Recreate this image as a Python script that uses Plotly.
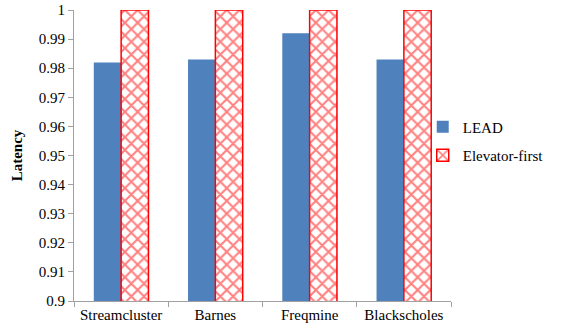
import plotly.graph_objects as go

categories = ["Streamcluster", "Barnes", "Freqmine", "Blackscholes"]
lead = [0.982, 0.983, 0.992, 0.983]
elevator_first = [1.0, 1.0, 1.0, 1.0]
y_ticks = [0.9, 0.91, 0.92, 0.93, 0.94, 0.95, 0.96, 0.97, 0.98, 0.99, 1.0]
y_tick_text = ["0.9", "0.91", "0.92", "0.93", "0.94", "0.95", "0.96", "0.97", "0.98", "0.99", "1"]

font = "Liberation Serif"

fig = go.Figure()
fig.add_trace(go.Bar(
    x=categories, y=lead, name="LEAD", legendgroup="a",
    marker=dict(color="#4F81BD", line=dict(width=0)),
))
fig.add_trace(go.Bar(
    x=categories, y=elevator_first, name="Elevator-first", legendgroup="b",
    marker=dict(color="white", line=dict(color="#FF0000", width=1.5),
                pattern=dict(shape="x", fgcolor="#FF0000", bgcolor="white", size=9, solidity=0.4)),
))

fig.update_layout(
    width=561, height=332,
    margin=dict(l=74, r=110, t=10, b=31, autoexpand=False),
    paper_bgcolor="white", plot_bgcolor="white",
    barmode="group", bargap=0.42, bargroupgap=0,
    font=dict(family=font, size=15, color="black"),
    showlegend=True,
    legend=dict(x=0.925, y=0.55, xanchor="left", yanchor="middle",
                font=dict(family=font, size=15), tracegroupgap=6,
                itemwidth=30, bgcolor="rgba(0,0,0,0)"),
)
fig.update_yaxes(
    range=[0.9, 1.0], tickvals=y_ticks, ticktext=y_tick_text,
    showgrid=False, showline=True, linecolor="#A0A0A0", linewidth=1,
    ticks="outside", ticklen=5, tickcolor="#A0A0A0",
    title=dict(text="<b>Latency</b>", font=dict(family=font, size=15), standoff=12),
    zeroline=False,
)
fig.update_xaxes(
    showline=True, linecolor="#A0A0A0", linewidth=1,
    ticks="outside", ticklen=5, tickcolor="#A0A0A0", tickson="boundaries",
    showgrid=False,
)

fig.write_html("out.html", config={"displayModeBar": False},
               post_script="document.body.style.margin='0';")
